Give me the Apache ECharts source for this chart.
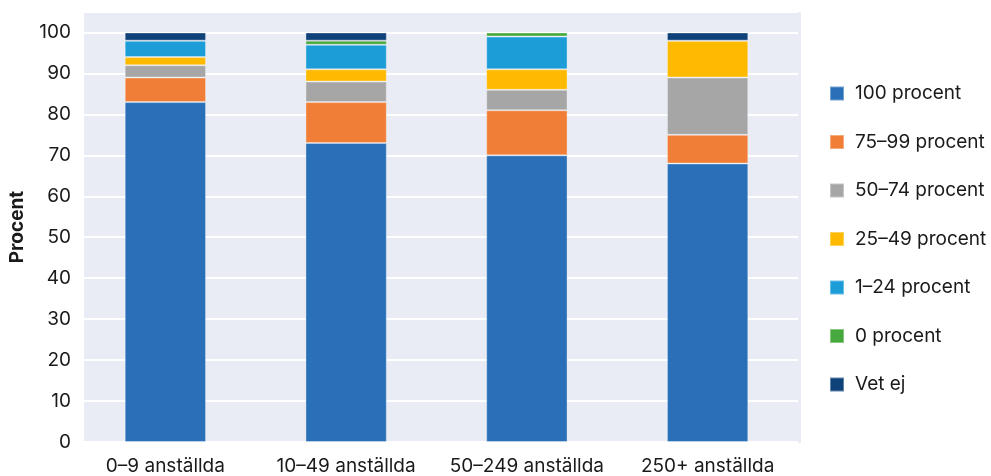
<!DOCTYPE html>
<html>
<head>
<meta charset="utf-8">
<script src="https://cdn.jsdelivr.net/npm/echarts@6/dist/echarts.min.js"></script>
<style>
html,body{margin:0;padding:0;background:#fff;}
#chart{width:991px;height:476px;}
</style>
</head>
<body>
<div id="chart"></div>
<script>
var categories = ['0–9 anställda', '10–49 anställda', '50–249 anställda', '250+ anställda'];
var seriesNames = ['100 procent', '75–99 procent', '50–74 procent', '25–49 procent', '1–24 procent', '0 procent', 'Vet ej'];
var v100 = [83, 73, 70, 68];
var v75_99 = [6, 10, 11, 7];
var v50_74 = [3, 5, 5, 14];
var v25_49 = [2, 3, 5, 9];
var v1_24 = [4, 6, 8, 0];
var v0 = [0, 1, 1, 0];
var vetEj = [2, 2, 0, 2];
var yTicks = [0, 10, 20, 30, 40, 50, 60, 70, 80, 90, 100];
var colors = ['#2A70B8', '#F07E36', '#A6A6A6', '#FDBA00', '#1C9DD8', '#47A93D', '#0F4279'];
var values = [v100, v75_99, v50_74, v25_49, v1_24, v0, vetEj];

var chart = echarts.init(document.getElementById('chart'), null, {renderer: 'canvas'});
var font = 'Inter, "Noto Sans", sans-serif';
var series = seriesNames.map(function (n, i) {
  return {
    name: n,
    type: 'bar',
    stack: 'total',
    barWidth: '45%',
    data: values[i],
    itemStyle: {color: colors[i], borderColor: 'rgba(255,255,255,0.35)', borderWidth: 1},
    emphasis: {disabled: true}
  };
});
chart.setOption({
  animation: false,
  color: colors,
  graphic: [{
    type: 'rect', z: -10, silent: true,
    shape: {x: 84, y: 12, width: 717, height: 431},
    style: {fill: '#E9ECF4'}
  }],
  grid: {left: 73, top: 12, width: 725, height: 430, containLabel: false},
  legend: {
    orient: 'vertical', left: 829, top: 84, padding: 0,
    itemWidth: 14, itemHeight: 14, itemGap: 29.5,
    icon: 'rect',
    data: seriesNames,
    textStyle: {fontFamily: font, fontSize: 19, color: '#1a1a1a', padding: [0, 0, 0, 6]}
  },
  xAxis: {
    type: 'category', data: categories,
    axisLine: {show: false}, axisTick: {show: false},
    axisLabel: {fontFamily: font, fontSize: 19, color: '#1a1a1a', margin: 15, interval: 0},
    splitLine: {show: false}
  },
  yAxis: {
    type: 'value', min: 0, max: 105, interval: 10,
    name: 'Procent', nameLocation: 'middle', nameGap: 48, nameRotate: 90,
    nameTextStyle: {fontFamily: font, fontSize: 19, fontWeight: 'bold', color: '#1a1a1a'},
    axisLine: {show: false}, axisTick: {show: false},
    axisLabel: {
      fontFamily: font, fontSize: 19, color: '#1a1a1a', margin: 4,
      formatter: function (v) { return yTicks.indexOf(v) >= 0 ? String(v) : ''; }
    },
    splitLine: {lineStyle: {color: '#ffffff', width: 2}}
  },
  series: series
});
</script>
</body>
</html>
